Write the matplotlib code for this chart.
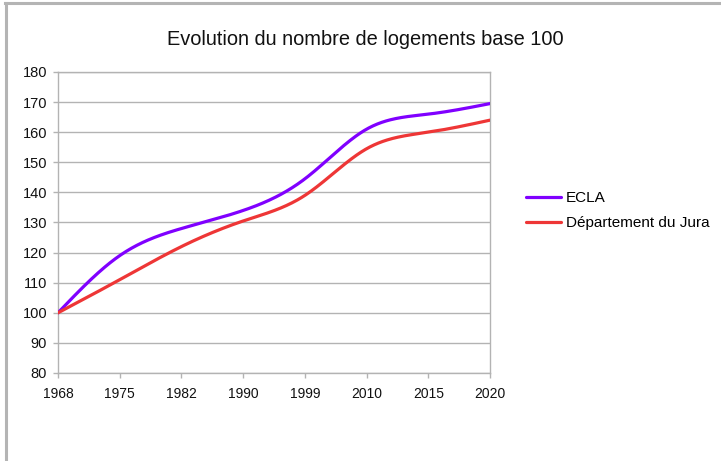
import numpy as np
import matplotlib
matplotlib.use("Agg")
import matplotlib.pyplot as plt
from matplotlib import font_manager
from matplotlib.lines import Line2D

years = ["1968", "1975", "1982", "1990", "1999", "2010", "2015", "2020"]
ecla = [100, 119, 128, 134, 144.5, 161, 166, 169.5]
jura = [100, 111, 122, 130.5, 139, 154.5, 160, 164]
series_names = ["ECLA", "Département du Jura"]
yticks = list(range(80, 181, 10))


def natural_spline(x, y, n=400):
    x = np.asarray(x, float)
    y = np.asarray(y, float)
    k = len(x)
    h = np.diff(x)
    A = np.zeros((k, k))
    b = np.zeros(k)
    A[0, 0] = 1
    A[-1, -1] = 1
    for i in range(1, k - 1):
        A[i, i - 1] = h[i - 1]
        A[i, i] = 2 * (h[i - 1] + h[i])
        A[i, i + 1] = h[i]
        b[i] = 3 * ((y[i + 1] - y[i]) / h[i] - (y[i] - y[i - 1]) / h[i - 1])
    c = np.linalg.solve(A, b)
    xs = np.linspace(x[0], x[-1], n)
    ys = np.empty_like(xs)
    for j, xv in enumerate(xs):
        i = min(np.searchsorted(x, xv, side="right") - 1, k - 2)
        dx = xv - x[i]
        bi = (y[i + 1] - y[i]) / h[i] - h[i] * (2 * c[i] + c[i + 1]) / 3
        di = (c[i + 1] - c[i]) / (3 * h[i])
        ys[j] = y[i] + bi * dx + c[i] * dx ** 2 + di * dx ** 3
    return xs, ys


avail = {f.name for f in font_manager.fontManager.ttflist}
base_font = "Liberation Sans" if "Liberation Sans" in avail else "DejaVu Sans"
narrow_font = "Liberation Sans Narrow" if "Liberation Sans Narrow" in avail else base_font
xtick_size = 10.5 if narrow_font != base_font else 10
plt.rcParams["font.family"] = [base_font, "DejaVu Sans"]

W, H = 721, 461
fig = plt.figure(figsize=(W / 100, H / 100), dpi=100)
fig.patch.set_facecolor("white")

# outer frame (left and top grey border)
fig.add_artist(Line2D([5.5 / W, 5.5 / W], [0, 1 - 3 / H], color="#b4b4b4", lw=2.2,
                      transform=fig.transFigure))
fig.add_artist(Line2D([4.5 / W, 1], [1 - 3.5 / H, 1 - 3.5 / H], color="#b4b4b4", lw=2.2,
                      transform=fig.transFigure))

left, right, top, bottom = 58, 490, 72, 373
ax = fig.add_axes([left / W, 1 - bottom / H, (right - left) / W, (bottom - top) / H])

x = np.arange(len(years))
colors = ["#8000ff", "#ee3636"]
for vals, name, col in zip([ecla, jura], series_names, colors):
    xs, ys = natural_spline(x, vals)
    ax.plot(xs, ys, color=col, lw=2.3, label=name, solid_capstyle="round", zorder=3)

ax.set_xlim(0, len(years) - 1)
ax.set_ylim(80, 180)
ax.set_yticks(yticks)
ax.set_yticklabels([str(v) for v in yticks], fontsize=10.5, color="#111111")
ax.set_xticks(x)
ax.set_xticklabels(years, fontsize=xtick_size, color="#111111", family=[narrow_font, "DejaVu Sans"])
ax.grid(axis="y", color="#b3b3b3", lw=1)
ax.set_axisbelow(True)
for s in ax.spines.values():
    s.set_color("#b3b3b3")
    s.set_linewidth(1)
ax.tick_params(axis="both", color="#b3b3b3", length=3.8, width=1)
ax.tick_params(axis="y", pad=4)
ax.tick_params(axis="x", pad=6)

fig.text(365.5 / W, 1 - 39 / H, "Evolution du nombre de logements base 100",
         ha="center", va="center", fontsize=14.4, color="#111111")

handles, labels = ax.get_legend_handles_labels()
fig.legend(handles, labels, loc="center left", bbox_to_anchor=(526 / W, 1 - 210.5 / H),
           frameon=False, fontsize=11, handlelength=2.3, handletextpad=0.3,
           labelspacing=0.7, borderpad=0, borderaxespad=0)

fig.savefig("out.png", dpi=100, facecolor="white")
